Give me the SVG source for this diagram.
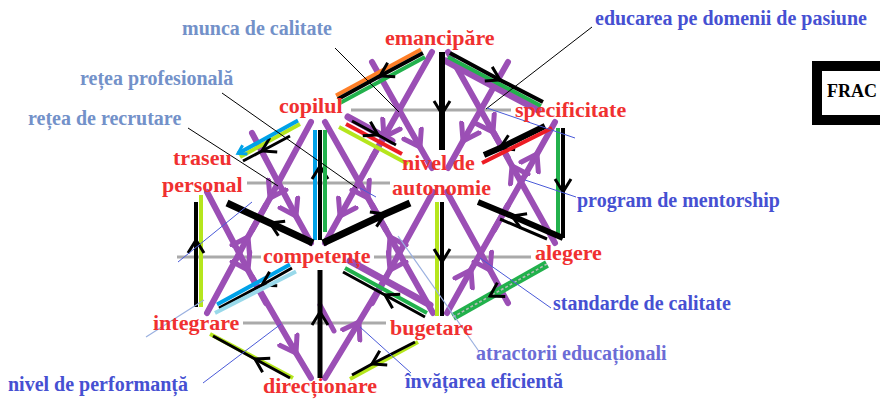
<svg xmlns="http://www.w3.org/2000/svg" width="880" height="401" viewBox="0 0 880 401">
<defs>
<style>
.r{font-family:"Liberation Serif","Times New Roman",serif;font-weight:bold;font-size:22px;fill:#f03030}
.b{font-family:"Liberation Serif","Times New Roman",serif;font-weight:bold;font-size:20px;fill:#4650d2}
.lb{fill:#7391c9}
.la{fill:#6c6cd6}
.g{stroke:#aaaaaa;stroke-width:3;fill:none}
.p{stroke:#9b4fb5;stroke-width:6;fill:none;stroke-linecap:round;marker-mid:url(#pc)}
.pt{stroke:#9b4fb5;stroke-width:7;fill:none;stroke-linecap:round}
.k{stroke:#000;fill:none;marker-mid:url(#kc)}
.c{fill:none;stroke-width:4}
.ld{stroke:#000;stroke-width:1;fill:none}
.lu{stroke:#4a5ad8;stroke-width:1;fill:none}
.ll{stroke:#9ab0e0;stroke-width:1.2;fill:none}
</style>
<marker id="pc" markerUnits="userSpaceOnUse" markerWidth="34" markerHeight="34" viewBox="-17 -17 34 34" refX="0" refY="0" orient="auto">
<path d="M-15,-10 L0,0 L-15,10" fill="none" stroke="#9b4fb5" stroke-width="5" stroke-linecap="round" stroke-linejoin="round"/>
</marker>
<marker id="kc" markerUnits="userSpaceOnUse" markerWidth="30" markerHeight="30" viewBox="-15 -15 30 30" refX="0" refY="0" orient="auto">
<path d="M-13,-8 L0,0 L-13,8" fill="none" stroke="#000" stroke-width="3"/>
</marker>
<marker id="bc" markerUnits="userSpaceOnUse" markerWidth="20" markerHeight="20" viewBox="-10 -10 20 20" refX="0" refY="0" orient="auto">
<path d="M-8,-5 L0,0 L-8,5" fill="none" stroke="#00a2e8" stroke-width="3"/>
</marker>
</defs>
<rect width="880" height="401" fill="#ffffff"/>

<g id="connectors">
  <!-- gray medians -->
  <path class="g" d="M351,110 H511"/>
  <path class="g" d="M247,183 H390"/>
  <path class="g" d="M177,257 H261 M374,257 H531"/>
  <path class="g" d="M243,323 H386"/>

  <!-- purple medians -->
  <path class="p" d="M432,52 L384,137 L372,158"/>
  <path class="p" d="M372,62 L420,147 L432,168"/>
  <path class="p" d="M448,52 L493,132 L508,158"/>
  <path class="p" d="M508,62 L463,141 L448,168"/>
  <path class="p" d="M311,122 L270,198 L252,230"/>
  <path class="p" d="M252,133 L296,216 L311,243"/>
  <path class="p" d="M325,122 L368,198 L386,230"/>
  <path class="p" d="M386,133 L340,216 L325,243"/>
  <path class="p" d="M494,230 L537,154 L555,122"/>
  <path class="p" d="M555,243 L512,166 L494,133"/>
  <path class="p" d="M207,192 L248,270 L266,303"/>
  <path class="p" d="M207,313 L248,237 L266,205"/>
  <path class="p" d="M433,192 L390,270 L372,303"/>
  <path class="p" d="M433,313 L390,237 L372,205"/>
  <path class="p" d="M447,192 L490,270 L508,303"/>
  <path class="p" d="M447,313 L471,270 L508,205"/>
  <path class="p" d="M252,277 L296,353 L311,378"/>
  <path class="p" d="M325,378 L359,322 L386,277"/>
  <path class="pt" d="M320,305 L334,331" style="stroke-width:5"/>

  <!-- purple thick edges -->
  <path class="pt" d="M446,61 L538,110"/>
  <path class="pt" d="M348,117 L392,141"/>
  <path class="pt" d="M350,261 L430,305"/>

  <!-- C-E -->
  <path class="c" stroke="#ff7f27" d="M336,95.5 L421,49.5"/>
  <path class="c" stroke="#22b14c" d="M340,103 L425,57"/>
  <path class="k" stroke-width="4" d="M423,53 L380,76 L338,99"/>
  <!-- E-S -->
  <path class="c" stroke="#22b14c" d="M448,57 L541,106"/>
  <path class="k" stroke-width="4" d="M450,53 L500,80 L543,102"/>
  <!-- E-N -->
  <path class="k" stroke-width="6" d="M442,52 L442,114 L442,150"/>
  <!-- C-T -->
  <path class="c" stroke="#b5e61d" d="M240,157 L300,124"/>
  <path class="k" stroke-width="3" d="M290,136 L262,151 L243,161"/>
  <path class="c" stroke="#00a2e8" d="M298,120.5 L238,153.5" marker-end="url(#bc)"/>
  <!-- C-N -->
  <path class="c" stroke="#b5e61d" d="M339,127 L408,164"/>
  <path class="c" stroke="#ed1c24" d="M346,124 L402,154"/>
  <path class="k" stroke-width="3" d="M352,121 L378,135 L396,145"/>
  <!-- S-N -->
  <path class="k" stroke-width="6" d="M545,126 L500,148 L484,155"/>
  <path class="c" stroke="#ed1c24" d="M482,163 L552,128"/>
  <!-- C-K -->
  <path class="c" stroke="#00a2e8" d="M315,130 V240"/>
  <path class="k" stroke-width="4" d="M320,240 L320,166 L320,130"/>
  <path class="c" stroke="#22b14c" d="M325,130 V232"/>
  <!-- T-K, N-K -->
  <path class="k" stroke-width="7" d="M313,243 L270,223 L227,203"/>
  <path class="k" stroke-width="7" d="M323,243 L385,214 L410,203"/>
  <!-- S-A -->
  <path class="c" stroke="#22b14c" stroke-width="5" d="M558,128 V238"/>
  <path class="k" stroke-width="4" d="M563,128 L563,192 L563,238"/>
  <!-- N-A -->
  <path class="k" stroke-width="6" d="M563,238 L512,216 L478,202"/>
  <path stroke="#000" stroke-width="3" d="M500,219 L547,239"/>
  <!-- T-I -->
  <path class="c" stroke="#b5e61d" d="M201,195 V307"/>
  <path class="k" stroke-width="4" d="M196,307 L196,240 L196,202"/>
  <!-- K-I -->
  <path class="c" stroke="#00a2e8" d="M290,264.5 L217,304.5"/>
  <path class="k" stroke-width="3" d="M292,268 L262,285 L219,308"/>
  <path class="c" stroke="#99d9ea" d="M296,271.5 L215,313"/>
  <!-- K-B -->
  <path class="c" stroke="#22b14c" d="M345,268 L427,313"/>
  <path class="k" stroke-width="3" d="M425,317 L385,295 L343,272"/>
  <!-- N-B -->
  <path class="c" stroke="#b5e61d" d="M437,202 V316"/>
  <path class="k" stroke-width="4" d="M442,202 L442,262 L442,316"/>
  <!-- A-B -->
  <path stroke="#22b14c" stroke-width="8" fill="none" d="M453,317 L547,264"/>
  <path stroke="#c8c8c8" stroke-width="1.5" stroke-dasharray="3 2" fill="none" d="M453,317 L547,264"/>
  <path class="k" stroke-width="0.1" d="M547,264 L490,296 L453,317"/>
  <!-- I-D -->
  <path class="c" stroke="#b5e61d" stroke-width="5" d="M210,334 L293,378"/>
  <path class="k" stroke-width="3" d="M290,378 L255,359 L213,336"/>
  <!-- D-B -->
  <path class="c" stroke="#b5e61d" stroke-width="5" d="M350,379 L418,342"/>
  <path class="k" stroke-width="3" d="M415,342 L372,364 L352,375"/>
  <!-- K-D -->
  <path class="k" stroke-width="5" d="M320,378 L320,312 L320,270"/>

  <!-- leader lines -->
  <path class="ld" d="M335,48 L399,112"/>
  <path class="ld" d="M222,93 L357,188"/>
  <path class="ld" d="M188,128 L278,186"/>
  <path class="ld" d="M592,27 L486,109"/>
  <path class="lu" d="M487,108 L575,138"/>
  <path class="lu" d="M525,180 L576,197"/>
  <path class="lu" d="M480,258 L551,308"/>
  <path class="ll" d="M398,236 L478,350"/>
  <path class="lu" d="M203,383 L281,324"/>
  <path class="lu" d="M360,327 L411,373"/>
  <path class="lu" d="M178,262 L252,202"/>
  <path class="ll" d="M146,337 L204,300"/>
  <path class="lu" d="M360,188 L376,197"/>
</g>

<g id="emancipare"><text class="r" x="385" y="45">emancipăre</text></g>
<g id="copilul"><text class="r" x="279" y="113">copilul</text></g>
<g id="specificitate"><text class="r" x="515" y="117">specificitate</text></g>
<g id="nivel-de-autonomie"><text class="r" x="402" y="170">nivel de</text><text class="r" x="392" y="195">autonomie</text></g>
<g id="traseu-personal"><text class="r" x="173" y="165">traseu</text><text class="r" x="162" y="192">personal</text></g>
<g id="competente"><text class="r" x="263" y="263">competențe</text></g>
<g id="alegere"><text class="r" x="535" y="260">alegere</text></g>
<g id="integrare"><text class="r" x="153" y="330">integrare</text></g>
<g id="bugetare"><text class="r" x="390" y="335">bugetare</text></g>
<g id="directionare"><text class="r" x="263" y="393">direcționare</text></g>

<g id="munca-de-calitate"><text class="b lb" x="182" y="35">munca de calitate</text></g>
<g id="retea-profesionala"><text class="b lb" x="80" y="85">rețea profesională</text></g>
<g id="retea-de-recrutare"><text class="b lb" x="28" y="125">rețea de recrutare</text></g>
<g id="educarea"><text class="b" x="595" y="25">educarea pe domenii de pasiune</text></g>
<g id="program-de-mentorship"><text class="b" x="577" y="207">program de mentorship</text></g>
<g id="standarde-de-calitate"><text class="b" x="553" y="310">standarde de calitate</text></g>
<g id="atractorii"><text class="b la" x="476" y="360">atractorii educaționali</text></g>
<g id="nivel-de-performanta"><text class="b" x="8" y="391">nivel de performanță</text></g>
<g id="invatarea-eficienta"><text class="b" x="405" y="388">învățarea eficientă</text></g>

<g id="frac">
  <rect x="817" y="66" width="80" height="54" fill="#ffffff" stroke="#000" stroke-width="10"/>
  <text x="827" y="97" font-family="Liberation Serif, Times New Roman, serif" font-weight="bold" font-size="18" fill="#000">FRAC</text>
</g>
</svg>
